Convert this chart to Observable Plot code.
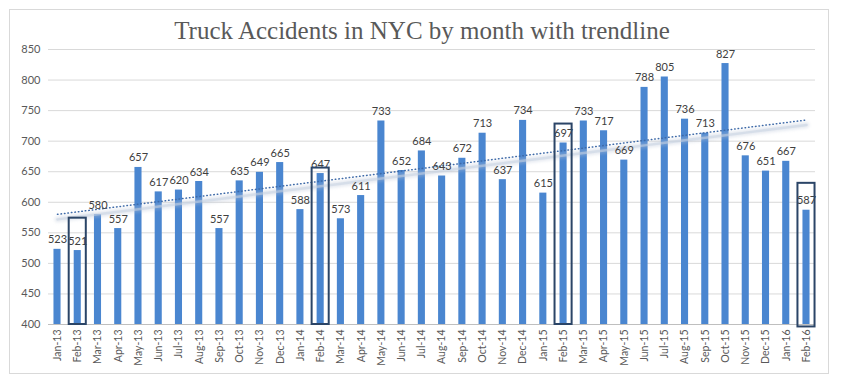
<!DOCTYPE html>
<html>
<head>
<meta charset="utf-8">
<script src="https://cdn.jsdelivr.net/npm/d3@7"></script>
<script src="https://cdn.jsdelivr.net/npm/@observablehq/plot@0.6"></script>
<style>
  body { margin: 0; background: #fff; }
  #wrap { position: relative; width: 844px; height: 385px; overflow: hidden; }
  #frame { position: absolute; left: 9px; top: 9px; width: 820px; height: 365px; border: 1px solid #d9d9d9; box-sizing: border-box; }
  #title { position: absolute; left: 0; top: 16px; width: 844px; text-align: center;
           font-family: "Liberation Serif", serif; font-size: 25px; color: #595959; line-height: 30px; }
  #chart { position: absolute; left: 0; top: 40px; }
</style>
</head>
<body>
<div id="wrap">
  <div id="frame"></div>
  <div id="title">Truck Accidents in NYC by month with trendline</div>
  <div id="chart"></div>
</div>
<script>
const months = ["Jan-13","Feb-13","Mar-13","Apr-13","May-13","Jun-13","Jul-13","Aug-13","Sep-13","Oct-13","Nov-13","Dec-13",
  "Jan-14","Feb-14","Mar-14","Apr-14","May-14","Jun-14","Jul-14","Aug-14","Sep-14","Oct-14","Nov-14","Dec-14",
  "Jan-15","Feb-15","Mar-15","Apr-15","May-15","Jun-15","Jul-15","Aug-15","Sep-15","Oct-15","Nov-15","Dec-15",
  "Jan-16","Feb-16"];
const accidents = [523,521,580,557,657,617,620,634,557,635,649,665,
  588,647,573,611,733,652,684,643,672,713,637,734,
  615,697,733,717,669,788,805,736,713,827,676,651,
  667,587];
const yTicks = [400,450,500,550,600,650,700,750,800,850];
const highlightMonths = ["Feb-13","Feb-14","Feb-15","Feb-16"];
const highlightTop = [574,656,728,631];
const highlightBottom = [400,400,400,396];

const data = months.map((m, i) => ({month: m, value: accidents[i], i}));
// least-squares linear trend
const mx = d3.mean(data, d => d.i), my = d3.mean(data, d => d.value);
const slope = d3.sum(data, d => (d.i - mx) * (d.value - my)) / d3.sum(data, d => (d.i - mx) ** 2);
const icpt = my - slope * mx;
const trend = data.map(d => ({month: d.month, value: icpt + slope * d.i}));
const boxes = highlightMonths.map((m, k) => ({month: m, y1: highlightBottom[k], y2: highlightTop[k]}));

const plot = Plot.plot({
  width: 844,
  height: 345,
  marginTop: 9,
  marginBottom: 61,
  marginLeft: 48,
  marginRight: 29,
  style: {fontFamily: "Lato, sans-serif", fontSize: "11px", color: "#595959", background: "transparent", overflow: "visible"},
  x: {domain: months, paddingInner: 0.65, paddingOuter: 0.27, align: 0.5, round: false, label: null},
  y: {domain: [400, 850], ticks: yTicks, label: null},
  marks: [
    Plot.gridY(yTicks, {stroke: "#d9d9d9", strokeOpacity: 1}),
    Plot.axisY({ticks: yTicks, tickSize: 0, tickPadding: 8, fontSize: 11, fill: "#595959", label: null}),
    Plot.axisX({tickSize: 0, tickPadding: 5, tickRotate: -90, fontSize: 10.5, fill: "#595959", label: null}),
    Plot.ruleY([400], {stroke: "#bfbfbf"}),
    Plot.barY(data, {x: "month", y1: 400, y2: "value", fill: "#4a86d0"}),
    Plot.line(trend, {x: "month", y: "value", stroke: "#b6c3d6", strokeWidth: 6, strokeOpacity: 0.35, dy: 5, strokeLinecap: "round", imageFilter: "blur(1.5px)"}),
    Plot.line(trend, {x: "month", y: "value", stroke: "#c9d3e1", strokeWidth: 2.5, strokeOpacity: 0.55, dy: 5}),
    Plot.line(trend, {x: "month", y: "value", stroke: "#3e6aa8", strokeWidth: 1.5, strokeDasharray: "0.5,3", strokeLinecap: "round"}),
    Plot.text(data, {x: "month", y: "value", text: d => String(d.value), lineAnchor: "bottom", dy: -6, fill: "#404040", fontSize: 11}),
    Plot.rect(boxes, {x: "month", y1: "y1", y2: "y2", fill: "none", stroke: "#2b4567", strokeWidth: 2, insetLeft: -5, insetRight: -5})
  ]
});
document.getElementById("chart").appendChild(plot);
</script>
</body>
</html>
